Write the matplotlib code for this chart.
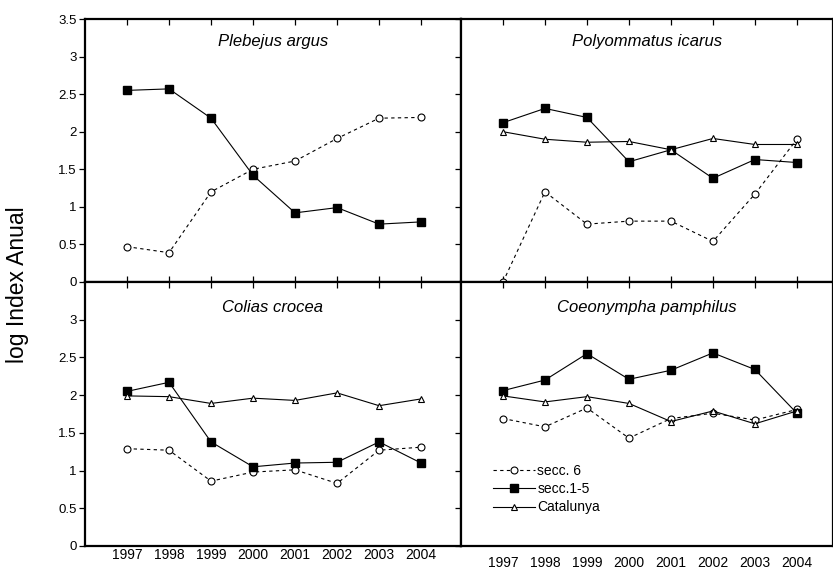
import numpy as np
import matplotlib
matplotlib.use('Agg')
import matplotlib.pyplot as plt
from matplotlib.lines import TICKLEFT

plt.rcParams['font.family'] = ['Liberation Sans', 'DejaVu Sans']

# ---------------- data ----------------
years = [1997, 1998, 1999, 2000, 2001, 2002, 2003, 2004]

# Plebejus argus
pa_secc6 = [0.47, 0.39, 1.20, 1.50, 1.61, 1.91, 2.18, 2.19]
pa_secc15 = [2.55, 2.57, 2.18, 1.42, 0.92, 0.99, 0.77, 0.80]

# Polyommatus icarus
pi_secc6 = [0.00, 1.20, 0.77, 0.81, 0.81, 0.54, 1.17, 1.90]
pi_secc15 = [2.12, 2.31, 2.19, 1.60, 1.76, 1.38, 1.63, 1.59]
pi_cat = [2.00, 1.90, 1.86, 1.87, 1.76, 1.91, 1.83, 1.83]

# Colias crocea
cc_secc6 = [1.29, 1.27, 0.86, 0.98, 1.01, 0.83, 1.27, 1.31]
cc_secc15 = [2.05, 2.17, 1.38, 1.05, 1.10, 1.11, 1.38, 1.10]
cc_cat = [1.99, 1.98, 1.89, 1.96, 1.93, 2.03, 1.86, 1.95]

# Coeonympha pamphilus
cp_secc6 = [1.69, 1.58, 1.83, 1.43, 1.69, 1.76, 1.67, 1.81]
cp_secc15 = [2.06, 2.20, 2.55, 2.21, 2.33, 2.56, 2.34, 1.76]
cp_cat = [1.99, 1.91, 1.98, 1.89, 1.65, 1.79, 1.62, 1.79]

labels = ['secc. 6', 'secc.1-5', 'Catalunya']
yticks_top = [0, 0.5, 1, 1.5, 2, 2.5, 3, 3.5]
yticks_bot = [0, 0.5, 1, 1.5, 2, 2.5, 3]

# ---------------- figure ----------------
W, H = 833, 572
fig = plt.figure(figsize=(W / 100, H / 100), dpi=100)

def px_axes(l, t, r, b):
    return fig.add_axes([l / W, 1 - b / H, (r - l) / W, (b - t) / H])

ax_tl = px_axes(85, 19, 461, 282)
ax_tr = px_axes(461, 19, 833, 282)
ax_bl = px_axes(85, 282, 461, 546)
ax_br = px_axes(461, 282, 833, 546)


def draw(ax, s6, s15, cat=None):
    ax.plot(years, s6, color='black', lw=0.8, dashes=(3, 3), marker='o',
            ms=5, mfc='white', mec='black', mew=0.8, label=labels[0],
            zorder=3, clip_on=False)
    ax.plot(years, s15, color='black', lw=0.8, marker='s', ms=5.5,
            mfc='black', mec='black', label=labels[1], zorder=4)
    if cat is not None:
        ax.plot(years, cat, color='black', lw=0.8, marker='^', ms=4.5,
                mfc='white', mec='black', mew=0.8, label=labels[2], zorder=5)


draw(ax_tl, pa_secc6, pa_secc15)
draw(ax_tr, pi_secc6, pi_secc15, pi_cat)
draw(ax_bl, cc_secc6, cc_secc15, cc_cat)
draw(ax_br, cp_secc6, cp_secc15, cp_cat)

titles = {ax_tl: 'Plebejus argus', ax_tr: 'Polyommatus icarus',
          ax_bl: 'Colias crocea', ax_br: 'Coeonympha pamphilus'}

for ax in [ax_tl, ax_tr, ax_bl, ax_br]:
    ax.set_ylim(0, 3.5)
    ax.set_xticks(years)
    for sp in ax.spines.values():
        sp.set_linewidth(1.6)
    ax.text(0.5, 0.915 if ax in (ax_tl, ax_tr) else 0.905, titles[ax],
            transform=ax.transAxes, ha='center', va='center',
            fontsize=12, style='italic')

for ax in [ax_tl, ax_bl]:
    ax.set_xlim(1996, 2004.95)
for ax in [ax_tr, ax_br]:
    ax.set_xlim(1996, 2004.86)

# left panels: labelled y axis, ticks out on the left, in on the right
ax_tl.set_yticks(yticks_top)
ax_tl.set_yticklabels(['0', '0.5', '1', '1.5', '2', '2.5', '3', '3.5'])
ax_bl.set_yticks(yticks_bot)
ax_bl.set_yticklabels(['0', '0.5', '1', '1.5', '2', '2.5', '3'])
for ax in [ax_tl, ax_bl]:
    ax.tick_params(axis='y', left=True, right=True, direction='out',
                   length=4, width=0.9, labelsize=9.5, pad=2)
    for tk in ax.yaxis.get_major_ticks():
        tk.tick2line.set_marker(TICKLEFT)

for ax in [ax_tr, ax_br]:
    ax.set_yticks(yticks_bot)
    ax.tick_params(axis='y', left=False, right=False, labelleft=False)

# x ticks
for ax in [ax_tl, ax_tr]:
    ax.tick_params(axis='x', top=True, bottom=True, direction='in', length=4,
                   width=0.9, labelbottom=False)
ax_bl.tick_params(axis='x', top=True, bottom=False, direction='in', length=4,
                  width=0.9, labelbottom=True, labelsize=10, pad=1.5)
ax_br.tick_params(axis='x', top=True, bottom=False, direction='in', length=4,
                  width=0.9, labelbottom=True, labelsize=10, pad=7)

fig.text(18 / W, 1 - 285 / H, 'log Index Anual', rotation=90,
         ha='center', va='center', fontsize=16.5)

ax_br.legend(loc='upper left', bbox_to_anchor=(0.086, 0.31), frameon=False,
             fontsize=10, handlelength=3.0, handletextpad=0.2,
             borderpad=0, labelspacing=0.3, numpoints=1, borderaxespad=0)

fig.savefig('out.png', dpi=100)
